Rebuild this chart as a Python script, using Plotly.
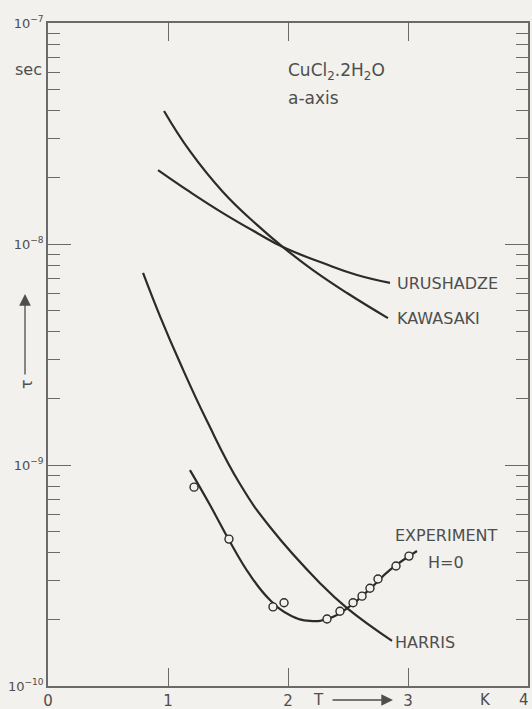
import plotly.graph_objects as go

# ---------------- data ----------------
kawasaki_T = [0.967, 1.183, 1.458, 1.742, 1.958, 2.208, 2.492, 2.833]
kawasaki_tau = [4.00e-8, 2.63e-8, 1.72e-8, 1.22e-8, 9.68e-9, 7.62e-9, 6.00e-9, 4.62e-9]

urushadze_T = [0.917, 1.183, 1.458, 1.742, 1.958, 2.292, 2.575, 2.850]
urushadze_tau = [2.16e-8, 1.72e-8, 1.38e-8, 1.122e-8, 9.68e-9, 8.20e-9, 7.24e-9, 6.67e-9]

harris_T = [0.792, 0.933, 1.100, 1.325, 1.600, 1.850, 2.267, 2.492, 2.867]
harris_tau = [7.40e-9, 4.72e-9, 2.90e-9, 1.58e-9, 8.20e-10, 5.24e-10, 2.92e-10, 2.25e-10, 1.60e-10]

exp_fit_T = [1.183, 1.350, 1.508, 1.683, 1.850, 2.017, 2.183, 2.350, 2.517, 2.683, 2.850, 3.075]
exp_fit_tau = [9.48e-10, 6.59e-10, 4.58e-10, 3.18e-10, 2.45e-10, 2.09e-10, 1.97e-10,
               2.03e-10, 2.30e-10, 2.75e-10, 3.35e-10, 4.08e-10]

exp_T = [1.217, 1.508, 1.875, 1.967, 2.325, 2.433, 2.542, 2.617, 2.683, 2.750, 2.900, 3.008]
exp_tau = [7.94e-10, 4.62e-10, 2.28e-10, 2.38e-10, 2.01e-10, 2.18e-10, 2.38e-10,
           2.55e-10, 2.77e-10, 3.05e-10, 3.49e-10, 3.87e-10]

x_tickvals = [0, 1, 2, 3, 4]
x_ticktext = ["0", "1", "2", "3", ""]
y_tickvals = [1e-10, 1e-9, 1e-8, 1e-7]
y_ticktext = ["10<sup>−10</sup>", "10<sup>−9</sup>", "10<sup>−8</sup>", "10<sup>−7</sup>"]
y_minor = [m * 10.0 ** e for e in (-10, -9, -8) for m in range(2, 10)]

# ---------------- style ----------------
BG = "#f2f1ed"
INK = "#2b2b2b"
AX = "#6a6a6a"
TXT = "#4e4e4e"
FONT = "DejaVu Sans"

W, H = 532, 709
L, R, T, B = 48, 4, 23, 23


def px_x(p):
    return (p - L) / (W - L - R)


def px_y(p):
    return (H - B - p) / (H - T - B)


fig = go.Figure()
line_style = dict(color=INK, width=2.2, shape="spline", smoothing=1.3)
fig.add_trace(go.Scatter(x=kawasaki_T, y=kawasaki_tau, mode="lines", line=line_style, name="KAWASAKI"))
fig.add_trace(go.Scatter(x=urushadze_T, y=urushadze_tau, mode="lines", line=line_style, name="URUSHADZE"))
fig.add_trace(go.Scatter(x=harris_T, y=harris_tau, mode="lines", line=line_style, name="HARRIS"))
fig.add_trace(go.Scatter(x=exp_fit_T, y=exp_fit_tau, mode="lines", line=line_style, name="fit"))
fig.add_trace(go.Scatter(x=exp_T, y=exp_tau, mode="markers", name="EXPERIMENT",
                         marker=dict(symbol="circle", size=8, color=BG,
                                     line=dict(color=INK, width=1.4))))

annots = []


def label(text, x, y, size=16, anchor="left", angle=0):
    annots.append(dict(text=text, x=px_x(x), y=px_y(y), xref="paper", yref="paper",
                       xanchor=anchor, yanchor="middle", showarrow=False, textangle=angle,
                       font=dict(family=FONT, size=size, color=TXT)))


label("CuCl<sub>2</sub>.2H<sub>2</sub>O", 286, 72, size=17)
label("a-axis", 286, 98, size=17)
label("URUSHADZE", 395, 283)
label("KAWASAKI", 395, 318)
label("EXPERIMENT", 393, 535)
label("H=0", 426, 562)
label("HARRIS", 393, 642)
label("sec", 44, 70, anchor="right")
label("T", 318, 700, size=15, anchor="center")
label("K", 485, 700, size=15, anchor="center")
label("4", 531, 700, size=15, anchor="right")
label("τ", 26, 384, size=16, anchor="center", angle=-90)

# arrows
annots.append(dict(text="", x=px_x(393), y=px_y(700), xref="paper", yref="paper",
                   ax=-62, ay=0, showarrow=True, arrowhead=2, arrowsize=1.8,
                   arrowwidth=1.3, arrowcolor=TXT))
annots.append(dict(text="", x=px_x(25), y=px_y(294), xref="paper", yref="paper",
                   ax=0, ay=82, showarrow=True, arrowhead=2, arrowsize=1.8,
                   arrowwidth=1.3, arrowcolor=TXT))

fig.update_layout(
    width=W, height=H,
    margin=dict(l=L, r=R, t=T, b=B),
    paper_bgcolor=BG, plot_bgcolor=BG,
    showlegend=False,
    annotations=annots,
    xaxis=dict(range=[0, 4], tickmode="array", tickvals=x_tickvals, ticktext=x_ticktext,
               ticks="inside", ticklen=18, tickwidth=1.3, tickcolor=AX,
               showline=True, linecolor=AX, linewidth=1.5, mirror="ticks",
               showgrid=False, zeroline=False, automargin=False,
               tickfont=dict(family=FONT, size=15, color=TXT)),
    yaxis=dict(type="log", range=[-10, -7], tickmode="array", tickvals=y_tickvals,
               ticktext=y_ticktext, ticks="inside", ticklen=23, tickwidth=1.3, tickcolor=AX,
               showline=True, linecolor=AX, linewidth=1.5, mirror="ticks",
               showgrid=False, zeroline=False, automargin=False,
               tickfont=dict(family=FONT, size=13, color=TXT),
               minor=dict(tickmode="array", tickvals=y_minor, ticks="inside", ticklen=12,
                          tickwidth=1.3, tickcolor=AX, showgrid=False)),
)

fig.write_html("out.html")
